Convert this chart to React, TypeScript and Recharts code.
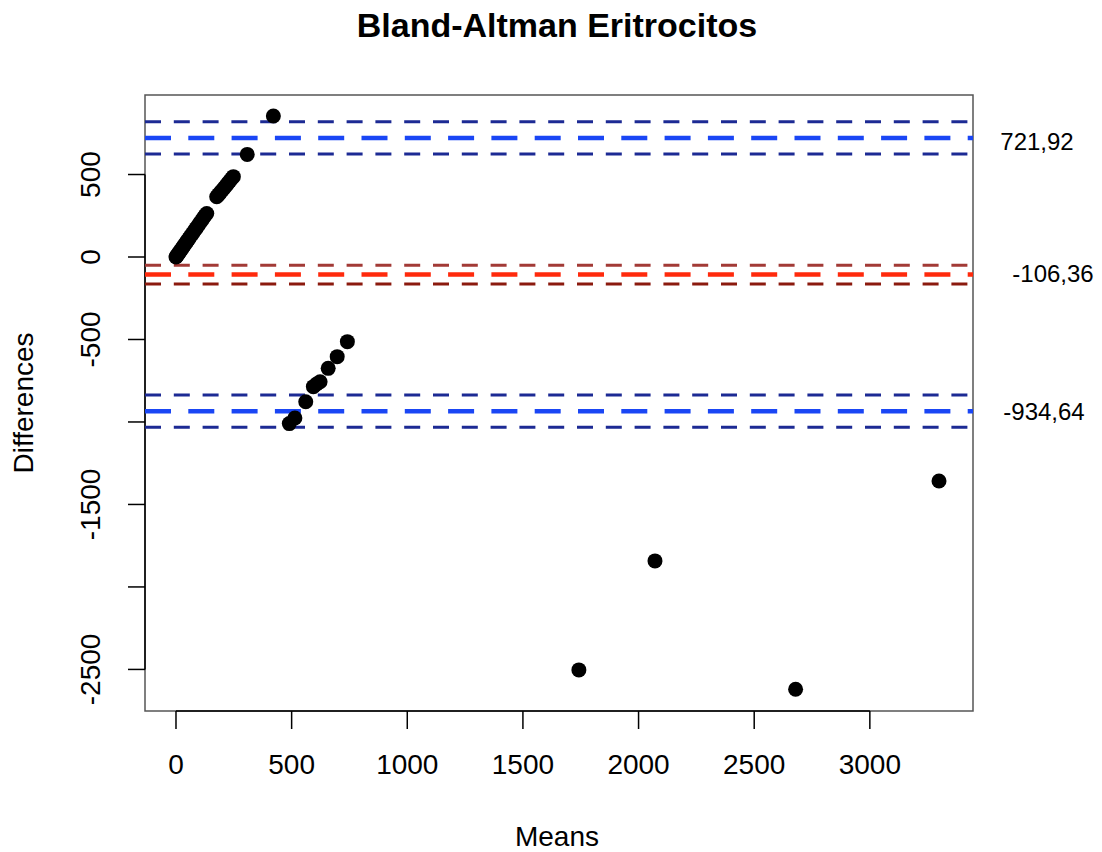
import React from 'react';
import { ScatterChart, Scatter, XAxis, YAxis, ReferenceLine, ReferenceArea } from 'recharts';

// values
const means = [
  0, 3, 6, 10, 14, 19, 24, 30, 36, 42, 48, 55, 62, 70, 78, 86, 94, 102, 110, 118, 126, 133,
  176, 184, 192, 200, 208, 216, 224, 232, 240, 248,
  308, 421,
  490, 514, 561, 594, 608, 623, 658, 697, 741,
  1742, 2071, 2679, 3299,
];
const diffs = [
  0, 6, 12, 20, 28, 38, 48, 60, 72, 84, 96, 110, 124, 140, 156, 172, 188, 204, 220, 236, 252, 264,
  365, 378, 392, 405, 418, 432, 446, 460, 474, 487,
  622, 855,
  -1010, -976, -877, -786, -770, -756, -675, -604, -513,
  -2503, -1842, -2620, -1358,
];

const limitValues = [721.92, -106.36, -934.64];
const limitLabels = ['721,92', '-106,36', '-934,64'];
const upperCi = [820, -49.4, -836.6];
const lowerCi = [624, -163.3, -1032.6];

const xTicks = [0, 500, 1000, 1500, 2000, 2500, 3000];
const yTicks = [500, 0, -500, -1000, -1500, -2000, -2500];
const yLabelled = [500, 0, -500, -1500, -2500];

const xDomain = [-134, 3446];
const yDomain = [-2752, 982];

const points = means.map((m, i) => ({ mean: m, diff: diffs[i] }));

const FONT = '"Liberation Sans", Arial, sans-serif';

const lineColors = ['#1a46f5', '#ff2a0c', '#1a46f5'];
const upperCiColors = ['#1c2a94', '#a23a36', '#1c2a94'];
const lowerCiColors = ['#1c2a94', '#8b1a0e', '#1c2a94'];
const labelDx = [64, 80, 71];
const labelDy = [12, 7, 9];

const XTick = (props: any) => {
  const { x, y, payload } = props;
  return (
    <text x={x} y={y} dy={45} textAnchor="middle" fontFamily={FONT} fontSize={28} fill="#000">
      {payload.value}
    </text>
  );
};

const YTick = (props: any) => {
  const { x, y, payload } = props;
  if (!yLabelled.includes(payload.value)) return <g />;
  const bx = x - 28;
  return (
    <text x={bx} y={y} textAnchor="middle" transform={`rotate(-90, ${bx}, ${y})`} fontFamily={FONT} fontSize={28} fill="#000">
      {payload.value}
    </text>
  );
};

const sideLabel = (i: number) => (props: any) => {
  const vb = props.viewBox;
  return (
    <text x={vb.x + vb.width + labelDx[i]} y={vb.y + labelDy[i]} textAnchor="middle" fontFamily={FONT} fontSize={24} fill="#000">
      {limitLabels[i]}
    </text>
  );
};

export default function App() {
  return (
    <div style={{ position: 'absolute', left: 0, top: 0, width: 1102, height: 852, background: '#fff' }}>
      <ScatterChart width={1102} height={852} margin={{ top: 95, right: 129, bottom: 81, left: 85 }}>
        <XAxis
          type="number"
          dataKey="mean"
          domain={xDomain}
          ticks={xTicks}
          allowDataOverflow
          axisLine={false}
          tickLine={{ stroke: '#000', strokeWidth: 1.5 }}
          tickSize={18}
          tickMargin={0}
          height={60}
          tick={<XTick />}
        />
        <YAxis
          type="number"
          dataKey="diff"
          domain={yDomain}
          ticks={yTicks}
          allowDataOverflow
          axisLine={false}
          tickLine={{ stroke: '#000', strokeWidth: 1.5 }}
          tickSize={17}
          tickMargin={0}
          width={60}
          tick={<YTick />}
        />
        <ReferenceArea
          x1={xDomain[0]}
          x2={xDomain[1]}
          y1={yDomain[0]}
          y2={yDomain[1]}
          fill="none"
          fillOpacity={0}
          stroke="#555"
          strokeWidth={1.5}
          ifOverflow="visible"
        />
        <ReferenceLine segment={[{ x: 0, y: yDomain[0] }, { x: 3000, y: yDomain[0] }]} stroke="#000" strokeWidth={1.5} ifOverflow="visible" />
        <ReferenceLine segment={[{ x: xDomain[0], y: 500 }, { x: xDomain[0], y: -2500 }]} stroke="#000" strokeWidth={1.5} ifOverflow="visible" />
        <Scatter
          data={points}
          isAnimationActive={false}
          shape={(p: any) => <circle cx={p.cx} cy={p.cy} r={7.5} fill="#000" />}
        />
        {limitValues.map((v, i) => (
          <ReferenceLine key={'l' + i} y={v} stroke={lineColors[i]} strokeWidth={4.5} strokeDasharray="26 17.3" label={sideLabel(i)} ifOverflow="visible" />
        ))}
        {upperCi.map((v, i) => (
          <ReferenceLine key={'u' + i} y={v} stroke={upperCiColors[i]} strokeWidth={3} strokeDasharray="16 12.8" />
        ))}
        {lowerCi.map((v, i) => (
          <ReferenceLine key={'d' + i} y={v} stroke={lowerCiColors[i]} strokeWidth={3} strokeDasharray="16 12.8" />
        ))}
      </ScatterChart>
      <svg width={1102} height={852} style={{ position: 'absolute', left: 0, top: 0, pointerEvents: 'none' }}>
        <text x={557} y={37} textAnchor="middle" fontFamily={FONT} fontWeight="bold" fontSize={34} fill="#000">
          Bland-Altman Eritrocitos
        </text>
        <text x={557} y={846} textAnchor="middle" fontFamily={FONT} fontSize={28} fill="#000">
          Means
        </text>
        <text x={33} y={403} textAnchor="middle" transform="rotate(-90, 33, 403)" fontFamily={FONT} fontSize={28} fill="#000">
          Differences
        </text>
      </svg>
    </div>
  );
}
